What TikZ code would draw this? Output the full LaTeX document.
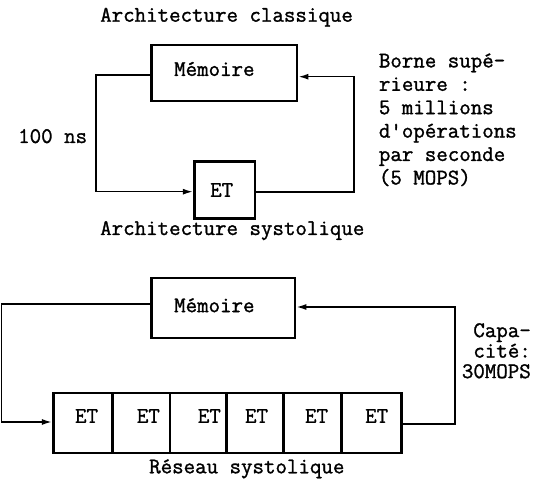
\documentclass[tikz,border=0pt]{standalone}
\usepackage{fontspec}
\newfontfamily\twfont{Latin Modern Mono}[FakeBold=1.3]
\usetikzlibrary{arrows.meta}
\tikzset{
  txt/.style={font=\twfont\fontsize{22.3}{23.4}\selectfont, inner sep=0pt},
  box/.style={draw, line width=2.8pt, inner sep=0pt},
  cell/.style={box, minimum height=60pt},
  conn/.style={line width=1.6pt},
  arr/.style={conn, -{Latex[length=10pt,width=6pt]}}
}
\begin{document}
\begin{tikzpicture}[x=1pt,y=-1pt]
\useasboundingbox (0,0) rectangle (544,489);
% ---------- classical architecture ----------
\node[txt, anchor=base west] (t1) at (100,21.7) {Architecture classique};
\node[box, minimum width=145.3pt, minimum height=56pt,
      label={[txt, shift={(-10pt,4pt)}]center:Mémoire}] (mem1) at (224.35,73) {};
\node[box, minimum width=60.7pt, minimum height=56.6pt,
      label={[txt, shift={(-3pt,0pt)}]center:ET}] (et1) at (224.65,190) {};
\coordinate (lx1) at (95.7,140);
\coordinate (rx1) at (353.7,140);
\draw[arr] ([yshift=-2pt]mem1.west) -| (lx1) |- ([yshift=-1.7pt]et1.west);
\draw[arr] ([yshift=-2pt]et1.east) -| (rx1) |- ([yshift=-3.7pt]mem1.east);
\node[txt, anchor=base west] (ns) at (18,143) {100 ns};
\node[txt, anchor=north west, align=left] (borne) at (378.7,53.3)
  {Borne supé-\\rieure :\\5 millions\\d'opérations\\par seconde\\(5 MOPS)};
% ---------- systolic architecture ----------
\node[txt, anchor=base west] (t2) at (100,235) {Architecture systolique};
\node[box, minimum width=143.3pt, minimum height=60pt,
      label={[txt, shift={(-9pt,2.7pt)}]center:Mémoire}] (mem2) at (223.35,308) {};
\node[cell, minimum width=59.4pt, label={[txt, shift={(3.5pt,7pt)}]center:ET}] (c1) at (83,423) {};
\node[cell, minimum width=57.3pt, label={[txt, shift={(7pt,7pt)}]center:ET}] (c2) at (141.35,423) {};
\node[cell, minimum width=56.7pt, label={[txt, shift={(11pt,7pt)}]center:ET}] (c3) at (198.35,423) {};
\node[cell, minimum width=56.6pt, label={[txt, shift={(1.5pt,7pt)}]center:ET}] (c4) at (255,423) {};
\node[cell, minimum width=58.4pt, label={[txt, shift={(4pt,7pt)}]center:ET}] (c5) at (312.5,423) {};
\node[cell, minimum width=60pt, label={[txt, shift={(5pt,7pt)}]center:ET}] (c6) at (371.7,423) {};
\coordinate (lx2) at (1.5,360);
\coordinate (rx2) at (455,360);
\draw[arr] ([yshift=4pt]mem2.west) -| (lx2) |- ([yshift=1pt]c1.west);
\draw[arr] ([yshift=-1pt]c6.east) -| (rx2) |- ([yshift=1pt]mem2.east);
\node[txt, anchor=north east, align=right, font=\twfont\fontsize{22.3}{20.5}\selectfont]
  (cap) at (531,323) {Capa-\\cité:\\30MOPS};
\node[txt, anchor=base west] (t3) at (149,473.3) {Réseau systolique};
\end{tikzpicture}
\end{document}
